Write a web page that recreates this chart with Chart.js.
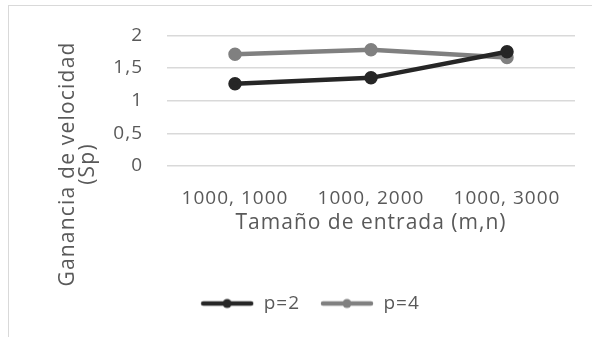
<!DOCTYPE html>
<html>
<head>
<meta charset="utf-8">
<script src="https://cdn.jsdelivr.net/npm/chart.js@4/dist/chart.umd.min.js"></script>
<style>
  body { margin: 0; background: #fff; }
  #frame { position: absolute; left: 8px; top: 5px; width: 700px; height: 400px; border: 1.5px solid #d9d9d9; }
  #myChart { position: absolute; left: 0; top: 0; }
</style>
</head>
<body>
<div id="frame"></div>
<canvas id="myChart" width="592" height="337"></canvas>
<script>
// categories along the x-axis
var sizes = ['1000, 1000', '1000, 2000', '1000, 3000'];
// speedup values
var p2 = [1.26, 1.35, 1.75];
var p4 = [1.71, 1.78, 1.66];
var yTitle = ['Ganancia de velocidad', '(Sp)'];
var xTitle = 'Tamaño de entrada (m,n)';

var textColor = '#595959';
var font = "'Open Sans', sans-serif";

// little line + dot sample used in the legend
function legendSample(color) {
  var c = document.createElement('canvas');
  c.width = 54;
  c.height = 12;
  var g = c.getContext('2d');
  g.strokeStyle = color;
  g.lineWidth = 4.5;
  g.lineCap = 'round';
  g.beginPath();
  g.moveTo(3, 6);
  g.lineTo(51, 6);
  g.stroke();
  g.fillStyle = color;
  g.beginPath();
  g.arc(27, 6, 4.5, 0, Math.PI * 2);
  g.fill();
  return c;
}

// Excel-ish spaced text
var spacing = {
  id: 'spacing',
  beforeLayout: function(chart) { chart.ctx.letterSpacing = '1px'; },
  beforeDraw: function(chart) { chart.ctx.letterSpacing = '1px'; }
};

// y title, centred lower than the plot like the original
var yTitlePlugin = {
  id: 'yTitle',
  afterDraw: function(chart) {
    var ctx = chart.ctx;
    ctx.save();
    ctx.letterSpacing = '1.2px';
    ctx.font = '21px ' + font;
    ctx.fillStyle = textColor;
    ctx.textAlign = 'center';
    ctx.textBaseline = 'middle';
    ctx.translate(68, 164);
    ctx.rotate(-Math.PI / 2);
    for (var i = 0; i < yTitle.length; i++) {
      ctx.fillText(yTitle[i], 0, i * 20);
    }
    ctx.restore();
  }
};

var ctx = document.getElementById('myChart');
var myChart = new Chart(ctx, {
  type: 'line',
  data: {
    labels: sizes,
    datasets: [
      {
        label: 'p=2',
        data: p2,
        borderColor: '#262626',
        backgroundColor: '#262626',
        borderWidth: 4.5,
        pointRadius: 4.5,
        pointHoverRadius: 4.5,
        fill: false
      },
      {
        label: 'p=4',
        data: p4,
        borderColor: '#808080',
        backgroundColor: '#808080',
        borderWidth: 4.5,
        pointRadius: 4.5,
        pointHoverRadius: 4.5,
        fill: false
      }
    ]
  },
  options: {
    responsive: false,
    animation: false,
    layout: { padding: { left: 45, right: 17, top: 33, bottom: 14 } },
    plugins: {
      tooltip: { enabled: false },
      legend: {
        position: 'bottom',
        labels: {
          usePointStyle: true,
          pointStyleWidth: 54,
          color: textColor,
          font: { family: font, size: 19 },
          padding: 20,
          generateLabels: function(chart) {
            return chart.data.datasets.map(function(ds, i) {
              return {
                text: ds.label,
                fontColor: textColor,
                pointStyle: legendSample(ds.borderColor),
                datasetIndex: i,
                lineWidth: 0,
                strokeStyle: 'transparent',
                fillStyle: 'transparent'
              };
            });
          }
        }
      }
    },
    scales: {
      x: {
        offset: true,
        afterFit: function(scale) { scale.height = 108; },
        grid: { display: false, drawTicks: false },
        border: { display: false },
        ticks: { color: textColor, font: { family: font, size: 19 }, padding: 21, maxRotation: 0 },
        title: {
          display: true,
          text: xTitle,
          color: textColor,
          font: { family: font, size: 21 },
          padding: { top: 0, bottom: 38 }
        }
      },
      y: {
        min: 0,
        max: 2,
        afterFit: function(scale) { scale.width = 122; },
        grid: { color: '#d9d9d9', lineWidth: 1.5, drawTicks: false },
        border: { display: false },
        ticks: {
          stepSize: 0.5,
          padding: 24,
          color: textColor,
          font: { family: font, size: 19 },
          callback: function(v) { return String(v).replace('.', ','); }
        }
      }
    }
  },
  plugins: [spacing, yTitlePlugin]
});
</script>
</body>
</html>
